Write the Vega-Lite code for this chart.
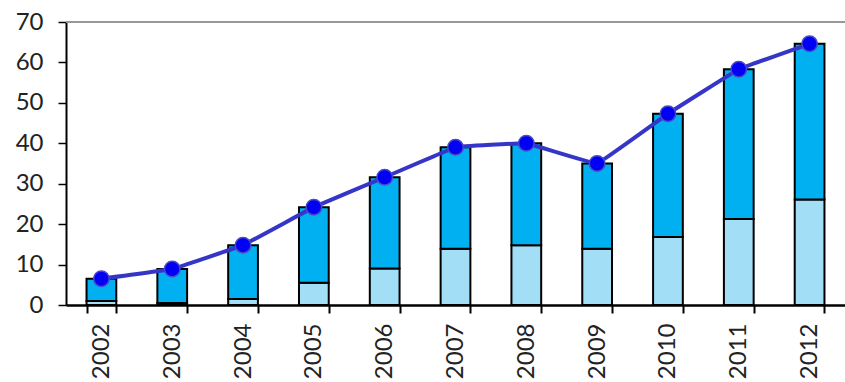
{
  "$schema": "https://vega.github.io/schema/vega-lite/v6.json",
  "width": 779,
  "height": 283,
  "autosize": "none",
  "padding": {"left": 66, "top": 22, "right": 0, "bottom": 77},
  "background": "white",
  "config": {"view": {"stroke": null}},
  "data": {"values": [
    {"year": "2002", "hatched": 1.0, "total": 6.5},
    {"year": "2003", "hatched": 0.5, "total": 8.9},
    {"year": "2004", "hatched": 1.5, "total": 14.8},
    {"year": "2005", "hatched": 5.5, "total": 24.2},
    {"year": "2006", "hatched": 9.0, "total": 31.6},
    {"year": "2007", "hatched": 13.9, "total": 39.0},
    {"year": "2008", "hatched": 14.8, "total": 40.0},
    {"year": "2009", "hatched": 13.9, "total": 35.0},
    {"year": "2010", "hatched": 16.8, "total": 47.3},
    {"year": "2011", "hatched": 21.3, "total": 58.3},
    {"year": "2012", "hatched": 26.1, "total": 64.6}
  ]},
  "encoding": {
    "x": {
      "field": "year", "type": "ordinal",
      "scale": {"paddingInner": 0.58, "paddingOuter": 0.29},
      "axis": {
        "title": null, "labelAngle": -90, "labelFont": "Lato", "labelFontSize": 24,
        "labelColor": "#222", "domainColor": "black", "domainWidth": 2.5,
        "tickColor": "black", "tickWidth": 2, "tickSize": 8, "tickBand": "extent",
        "labelPadding": 10
      }
    }
  },
  "layer": [
    {
      "mark": {"type": "rule", "color": "#999", "strokeWidth": 1.5},
      "encoding": {"y": {"datum": 70, "type": "quantitative", "scale": {"domain": [0, 70]}}, "x": null}
    },
    {
      "mark": {"type": "bar", "fill": "#A3DEF7", "stroke": "black", "strokeWidth": 2},
      "encoding": {
        "y": {"field": "hatched", "type": "quantitative",
          "scale": {"domain": [0, 70], "nice": false},
          "axis": {"title": null, "values": [0,10,20,30,40,50,60,70], "grid": false,
            "labelFont": "Lato", "labelFontSize": 24, "labelColor": "#222",
            "domainColor": "black", "domainWidth": 2, "tickColor": "black",
            "tickWidth": 1.5, "tickSize": 8, "labelPadding": 15}}
      }
    },
    {
      "mark": {"type": "bar", "fill": "#00B0F0", "stroke": "black", "strokeWidth": 2},
      "encoding": {
        "y": {"field": "hatched", "type": "quantitative"},
        "y2": {"field": "total"}
      }
    },
    {
      "mark": {"type": "line", "color": "#3535C8", "strokeWidth": 4, "interpolate": "cardinal", "tension": 0.85},
      "encoding": {"y": {"field": "total", "type": "quantitative"}}
    },
    {
      "mark": {"type": "point", "shape": "circle", "filled": true, "fill": "#0000F5", "stroke": "#4848C8", "strokeWidth": 1.5, "size": 240, "opacity": 1},
      "encoding": {"y": {"field": "total", "type": "quantitative"}}
    }
  ]
}
